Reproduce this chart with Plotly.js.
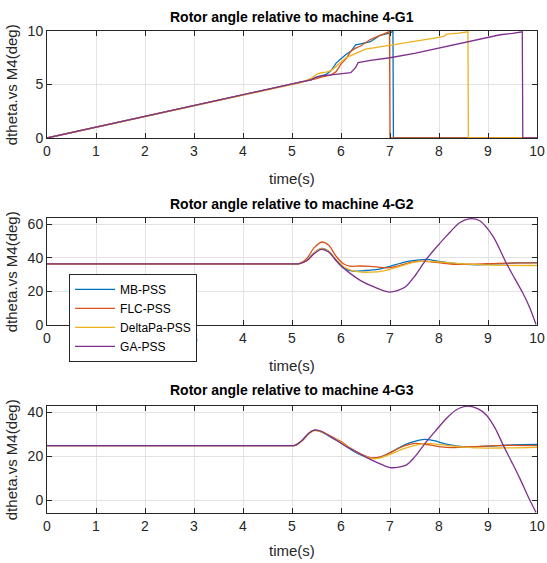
<!DOCTYPE html>
<html><head><meta charset="utf-8">
<script src="https://cdn.plot.ly/plotly-3.0.1.min.js"></script>
<style>body{margin:0;padding:0;background:#fff}#chart{width:547px;height:563px}</style>
</head><body><div id="chart"></div>
<script>
// Series names and colours
const seriesNames = ["MB-PSS", "FLC-PSS", "DeltaPa-PSS", "GA-PSS"];
const seriesColors = ["#0072BD", "#D95319", "#EDB120", "#7E2F8E"];

// Panel 1: Rotor angle relative to machine 4-G1
const g1_mb_t = [0, 5.2, 5.4, 5.5, 5.6, 5.7, 5.8, 5.9, 6.0, 6.1, 6.2, 6.3, 6.4, 6.5, 6.6, 6.7, 6.8, 6.9, 7.0, 7.06, 7.07, 10];
const g1_mb_y = [0, 5.2, 5.45, 5.7, 5.8, 5.95, 6.3, 7.0, 7.4, 7.8, 8.1, 8.7, 8.8, 8.9, 9.0, 9.3, 9.6, 9.7, 9.8, 9.97, 0, 0];
const g1_flc_t = [0, 5.2, 5.4, 5.5, 5.6, 5.7, 5.8, 5.9, 6.0, 6.1, 6.2, 6.3, 6.4, 6.5, 6.6, 6.7, 6.8, 6.9, 6.99, 7.0, 10];
const g1_flc_y = [0, 5.2, 5.4, 5.55, 5.7, 5.8, 5.9, 6.2, 6.9, 7.4, 8.1, 8.4, 8.6, 8.9, 9.2, 9.4, 9.6, 9.75, 9.95, 0, 0];
const g1_dp_t = [0, 5.2, 5.4, 5.5, 5.6, 5.7, 5.8, 5.9, 6.0, 6.1, 6.2, 6.3, 6.4, 6.5, 6.7, 7.0, 7.3, 7.6, 8.0, 8.1, 8.15, 8.4, 8.59, 8.6, 10];
const g1_dp_y = [0, 5.2, 5.6, 5.95, 6.1, 6.15, 6.3, 6.7, 7.05, 7.5, 7.7, 7.9, 8.15, 8.3, 8.45, 8.67, 8.85, 9.05, 9.4, 9.5, 9.7, 9.8, 9.92, 0, 0];
const g1_ga_t = [0, 5.2, 5.4, 5.5, 5.6, 5.8, 6.0, 6.2, 6.3, 6.35, 6.6, 7.0, 7.5, 8.0, 8.6, 9.0, 9.25, 9.5, 9.7, 9.71, 10];
const g1_ga_y = [0, 5.2, 5.45, 5.7, 5.8, 5.9, 6.0, 6.1, 6.6, 7.05, 7.25, 7.5, 7.9, 8.4, 8.95, 9.35, 9.65, 9.78, 9.92, 0, 0];

// Panel 2: Rotor angle relative to machine 4-G2
const g2_mb_t = [0, 1, 2, 3, 4, 4.8, 5.0, 5.15, 5.3, 5.45, 5.6, 5.75, 5.9, 6.05, 6.25, 6.5, 6.72, 7.0, 7.3, 7.6, 7.74, 8.0, 8.3, 8.77, 9.2, 9.6, 10];
const g2_mb_y = [36.5, 36.5, 36.5, 36.5, 36.5, 36.5, 36.5, 36.6, 38.5, 43, 45.7, 44, 38.5, 34, 32.1, 32.5, 33, 35, 37.5, 38.8, 39.1, 38, 36.8, 35.9, 36.4, 37, 37.2];
const g2_flc_t = [0, 1, 2, 3, 4, 4.8, 5.0, 5.15, 5.3, 5.45, 5.61, 5.75, 5.9, 6.05, 6.18, 6.4, 6.6, 6.96, 7.2, 7.4, 7.6, 7.8, 8.1, 8.3, 8.7, 9.2, 9.6, 10];
const g2_flc_y = [36.5, 36.5, 36.5, 36.5, 36.5, 36.5, 36.5, 36.6, 39.5, 46, 49.5, 47.5, 41, 36.5, 35.1, 35.2, 35, 34.1, 35.5, 37.2, 38.1, 37.8, 36.8, 36.2, 36.3, 36.8, 37, 37];
const g2_dp_t = [0, 1, 2, 3, 4, 4.8, 5.0, 5.15, 5.3, 5.45, 5.6, 5.75, 5.9, 6.1, 6.3, 6.6, 6.9, 7.2, 7.5, 7.74, 8.0, 8.4, 8.8, 9.4, 10];
const g2_dp_y = [36.5, 36.5, 36.5, 36.5, 36.5, 36.5, 36.5, 36.6, 38.3, 43, 45.5, 44, 39, 34, 32, 31.5, 32.5, 35, 37.5, 38.1, 37.6, 36.6, 36, 35.6, 35.5];
const g2_ga_t = [0, 1, 2, 3, 4, 4.8, 5.0, 5.15, 5.3, 5.45, 5.6, 5.75, 5.9, 6.05, 6.2, 6.4, 6.61, 6.96, 7.15, 7.33, 7.5, 7.74, 7.95, 8.15, 8.42, 8.61, 8.83, 9.1, 9.37, 9.55, 9.71, 9.85, 9.98];
const g2_ga_y = [36.5, 36.5, 36.5, 36.5, 36.5, 36.5, 36.5, 36.6, 38.3, 42.5, 45.1, 43.5, 38.5, 34, 30.5, 26.5, 23.5, 19.7, 20.5, 23.1, 29, 39.1, 46.5, 53, 61, 63.3, 62.2, 53, 37.1, 27.5, 19.1, 10.5, 0.3];

// Panel 3: Rotor angle relative to machine 4-G3
const g3_mb_t = [0, 1, 2, 3, 4, 4.7, 4.9, 5.06, 5.2, 5.35, 5.46, 5.6, 5.8, 6.0, 6.2, 6.4, 6.6, 6.8, 7.0, 7.2, 7.4, 7.6, 7.71, 7.9, 8.2, 8.55, 9.0, 9.5, 10];
const g3_mb_y = [24.8, 24.8, 24.8, 24.8, 24.8, 24.8, 24.8, 24.9, 27, 30.5, 31.8, 31, 28.5, 26, 23, 20.5, 19, 19.5, 21.5, 24, 26, 27.3, 27.6, 27, 25.2, 24.2, 24.5, 25.1, 25.3];
const g3_flc_t = [0, 1, 2, 3, 4, 4.7, 4.9, 5.06, 5.2, 5.35, 5.46, 5.6, 5.8, 6.0, 6.2, 6.4, 6.6, 6.8, 7.0, 7.2, 7.4, 7.51, 7.7, 8.0, 8.3, 8.7, 9.2, 10];
const g3_flc_y = [24.8, 24.8, 24.8, 24.8, 24.8, 24.8, 24.8, 24.9, 27, 30.5, 31.8, 31.2, 29, 26.6, 23.6, 21, 19.3, 19.6, 21.5, 23.8, 25.3, 25.8, 25.5, 24.3, 23.9, 24.3, 24.8, 24.8];
const g3_dp_t = [0, 1, 2, 3, 4, 4.7, 4.9, 5.06, 5.2, 5.35, 5.46, 5.6, 5.8, 6.0, 6.2, 6.4, 6.65, 6.8, 7.0, 7.3, 7.6, 7.75, 8.0, 8.4, 8.8, 9.3, 10];
const g3_dp_y = [24.8, 24.8, 24.8, 24.8, 24.8, 24.8, 24.8, 24.9, 26.8, 30.2, 31.6, 31, 28.8, 26.3, 23.4, 20.8, 18.8, 19.2, 20.8, 23.5, 25.3, 25.8, 25.3, 24.3, 23.7, 23.7, 24.0];
const g3_ga_t = [0, 1, 2, 3, 4, 4.7, 4.9, 5.06, 5.2, 5.35, 5.46, 5.6, 5.9, 6.1, 6.38, 6.62, 6.85, 7.03, 7.33, 7.5, 7.74, 7.95, 8.15, 8.35, 8.59, 8.8, 8.97, 9.15, 9.31, 9.48, 9.65, 9.82, 9.98];
const g3_ga_y = [24.8, 24.8, 24.8, 24.8, 24.8, 24.8, 24.8, 24.9, 27, 30.5, 31.8, 31.2, 27.3, 24.5, 21.2, 18.3, 16, 14.7, 15.9, 19.5, 26.5, 32, 37.1, 41, 42.7, 41.5, 38.6, 32.5, 25, 17.5, 9.85, 1.5, -5.6];

const FONT = "'Liberation Sans', Arial, sans-serif";

const panels = [
  {ts: [g1_mb_t, g1_flc_t, g1_dp_t, g1_ga_t], ys: [g1_mb_y, g1_flc_y, g1_dp_y, g1_ga_y], spline: false},
  {ts: [g2_mb_t, g2_flc_t, g2_dp_t, g2_ga_t], ys: [g2_mb_y, g2_flc_y, g2_dp_y, g2_ga_y], spline: true},
  {ts: [g3_mb_t, g3_flc_t, g3_dp_t, g3_ga_t], ys: [g3_mb_y, g3_flc_y, g3_dp_y, g3_ga_y], spline: true}
];

const traces = [];
panels.forEach((p, pi) => {
  const ax = pi === 0 ? "" : String(pi + 1);
  for (let s = 0; s < 4; s++) {
    traces.push({
      x: p.ts[s], y: p.ys[s], type: "scatter", mode: "lines",
      name: seriesNames[s], legendgroup: seriesNames[s],
      showlegend: pi === 1,
      line: {color: seriesColors[s], width: 1.3, shape: p.spline ? "spline" : "linear", smoothing: 0.8},
      xaxis: "x" + ax, yaxis: "y" + ax, hoverinfo: "skip"
    });
  }
});

function xax(anchor) {
  return {
    anchor: anchor, domain: [0, 1], range: [0, 10], tickvals: [0,1,2,3,4,5,6,7,8,9,10],
    ticks: "inside", ticklen: 5, tickcolor: "#262626", showline: true, linecolor: "#262626",
    linewidth: 1, mirror: "ticks", showgrid: true, gridcolor: "#e3e3e3", zeroline: false,
    tickfont: {family: FONT, size: 14, color: "#262626"}
  };
}
function yax(anchor, dom, range, tickvals) {
  return {
    anchor: anchor, domain: dom, range: range, tickvals: tickvals,
    ticks: "inside", ticklen: 5, tickcolor: "#262626", showline: true, linecolor: "#262626",
    linewidth: 1, mirror: "ticks", showgrid: true, gridcolor: "#e3e3e3", zeroline: false,
    tickfont: {family: FONT, size: 14, color: "#262626"}
  };
}

const titles = ["Rotor angle relative to machine 4-G1", "Rotor angle relative to machine 4-G2", "Rotor angle relative to machine 4-G3"];
const titleY = [1.029, 0.641, 0.255];
const xTitleY = [0.695, 0.307, -0.077];
const yTitleY = [0.889, 0.501, 0.111];
const annotations = [];
for (let i = 0; i < 3; i++) {
  annotations.push({text: "<b>" + titles[i] + "</b>", xref: "paper", yref: "paper", x: 0.5, y: titleY[i],
    xanchor: "center", yanchor: "middle", showarrow: false, font: {family: FONT, size: 14, color: "#000"}});
  annotations.push({text: "time(s)", xref: "paper", yref: "paper", x: 0.5, y: xTitleY[i],
    xanchor: "center", yanchor: "middle", showarrow: false, font: {family: FONT, size: 15, color: "#262626"}});
  annotations.push({text: "dtheta.vs M4(deg)", xref: "paper", yref: "paper", x: -0.072, y: yTitleY[i],
    xanchor: "center", yanchor: "middle", textangle: -90, showarrow: false, font: {family: FONT, size: 15, color: "#262626"}});
}

const layout = {
  width: 547, height: 563,
  margin: {l: 47, r: 10, t: 31, b: 50},
  paper_bgcolor: "#fff", plot_bgcolor: "#fff",
  showlegend: true,
  legend: {x: 0.045, y: 0.496, xanchor: "left", yanchor: "top", bgcolor: "#fff", bordercolor: "#262626", borderwidth: 1,
    font: {family: FONT, size: 12, color: "#000"}, tracegroupgap: 0, itemwidth: 40},
  xaxis: xax("y"), yaxis: yax("x", [0.778, 1], [0, 10], [0, 5, 10]),
  xaxis2: xax("y2"), yaxis2: yax("x2", [0.390, 0.612], [0, 63.8], [0, 20, 40, 60]),
  xaxis3: xax("y3"), yaxis3: yax("x3", [0, 0.222], [-5.9, 42.8], [0, 20, 40]),
  annotations: annotations
};

Plotly.newPlot("chart", traces, layout, {staticPlot: true, displayModeBar: false});
</script>
</body></html>
